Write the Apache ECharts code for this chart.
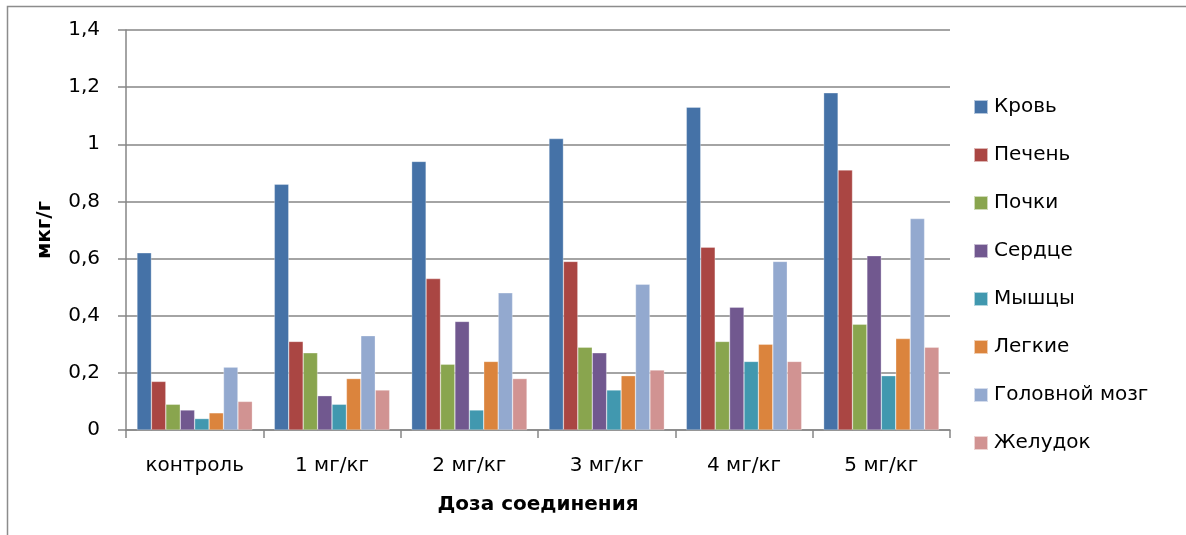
<!DOCTYPE html>
<html>
<head>
<meta charset="utf-8">
<script src="https://cdn.jsdelivr.net/npm/echarts@6/dist/echarts.min.js"></script>
<style>
  html, body { margin: 0; padding: 0; background: #fff; }
  #chart { width: 1186px; height: 535px; }
</style>
</head>
<body>
<div id="chart"></div>
<script>
var categories = ["контроль", "1 мг/кг", "2 мг/кг", "3 мг/кг", "4 мг/кг", "5 мг/кг"];
var seriesNames = ["Кровь", "Печень", "Почки", "Сердце", "Мышцы", "Легкие", "Головной мозг", "Желудок"];
var krov = [0.62, 0.86, 0.94, 1.02, 1.13, 1.18];
var pechen = [0.17, 0.31, 0.53, 0.59, 0.64, 0.91];
var pochki = [0.09, 0.27, 0.23, 0.29, 0.31, 0.37];
var serdce = [0.07, 0.12, 0.38, 0.27, 0.43, 0.61];
var myshcy = [0.04, 0.09, 0.07, 0.14, 0.24, 0.19];
var legkie = [0.06, 0.18, 0.24, 0.19, 0.30, 0.32];
var mozg = [0.22, 0.33, 0.48, 0.51, 0.59, 0.74];
var zheludok = [0.10, 0.14, 0.18, 0.21, 0.24, 0.29];
var yTicks = [0, 0.2, 0.4, 0.6, 0.8, 1, 1.2, 1.4];

var colorList = ["#4572A7", "#AA4643", "#89A54E", "#71588F", "#4198AF", "#DB843D", "#93A9CF", "#D19392"];
var allData = [krov, pechen, pochki, serdce, myshcy, legkie, mozg, zheludok];

var chart = echarts.init(document.getElementById("chart"));
var font = "'DejaVu Sans', sans-serif";

var option = {
  animation: false,
  color: colorList,
  textStyle: { fontFamily: font },
  graphic: [
    {
      type: "rect",
      shape: { x: 7.5, y: 6.5, width: 1300, height: 600 },
      style: { fill: "none", stroke: "#8c8c8c", lineWidth: 1.5 }
    }
  ],
  grid: { left: 126, right: 236, top: 30, bottom: 105 },
  legend: {
    orient: "vertical",
    left: 968,
    top: 92,
    itemWidth: 14,
    itemHeight: 14,
    itemGap: 28,
    icon: "rect",
    textStyle: { fontSize: 20, color: "#000", fontFamily: font, padding: [0, 0, 0, 1] },
    data: seriesNames
  },
  xAxis: {
    type: "category",
    data: categories,
    name: "Доза соединения",
    nameLocation: "middle",
    nameGap: 65,
    nameTextStyle: { fontSize: 20, fontWeight: "bold", color: "#000" },
    axisLine: { lineStyle: { color: "#868686", width: 1.5 } },
    axisTick: { show: true, length: 8, lineStyle: { color: "#868686", width: 1.5 } },
    axisLabel: { fontSize: 20, color: "#000", margin: 26 }
  },
  yAxis: {
    type: "value",
    min: 0,
    max: 1.4,
    interval: 0.2,
    name: "мкг/г",
    nameLocation: "middle",
    nameGap: 71,
    nameRotate: 90,
    nameTextStyle: { fontSize: 20, fontWeight: "bold", color: "#000" },
    axisLine: { show: true, lineStyle: { color: "#868686", width: 1.5 } },
    axisTick: { show: true, length: 8, lineStyle: { color: "#868686", width: 1.5 } },
    splitLine: { lineStyle: { color: "#868686", width: 1.5 } },
    axisLabel: {
      fontSize: 20,
      color: "#000",
      margin: 26,
      formatter: function (v) {
        var t = yTicks.find(function (k) { return Math.abs(k - v) < 1e-9; });
        return String(t === undefined ? v : t).replace(".", ",");
      }
    }
  },
  series: seriesNames.map(function (name, i) {
    return {
      name: name,
      type: "bar",
      data: allData[i],
      barGap: "0%",
      barCategoryGap: "16%",
      itemStyle: { borderColor: "rgba(255,255,255,0.6)", borderWidth: 0.5 }
    };
  })
};

chart.setOption(option);
</script>
</body>
</html>
